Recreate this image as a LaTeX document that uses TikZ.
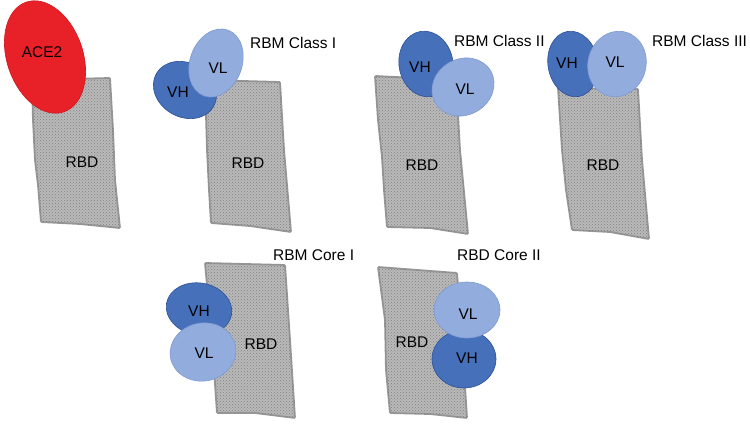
\documentclass[tikz,border=0pt]{standalone}
\usepackage{fontspec}
\setmainfont{Liberation Sans}
\usepackage{tikz}
\usetikzlibrary{positioning, calc, shapes, patterns}

\definecolor{acered}{RGB}{232,32,40}
\definecolor{aceedge}{RGB}{205,25,32}
\definecolor{vhblue}{RGB}{70,112,186}
\definecolor{vhedge}{RGB}{44,80,150}
\definecolor{vlblue}{RGB}{146,172,222}
\definecolor{vledge}{RGB}{126,154,210}
\definecolor{rbdgray}{RGB}{186,186,186}
\definecolor{rbdedge}{RGB}{150,150,150}
\definecolor{speck}{RGB}{125,125,125}

\begin{document}
\begin{tikzpicture}[x=1pt, y=-1pt,
		rbd/.style = {fill = rbdgray, draw = rbdedge, line width = 1.8pt, rounded corners = 1pt,
				postaction = {pattern = crosshatch dots, pattern color = speck}},
		ace/.style = {fill = acered, draw = aceedge, line width = 0.6pt},
		vh/.style = {fill = vhblue, draw = vhedge, line width = 0.6pt},
		vl/.style = {fill = vlblue, draw = vledge, line width = 0.6pt},
		txt/.style = {font = \fontsize{15.5}{18}\selectfont, inner sep = 0pt},
		title/.style = {txt, anchor = west}]
	\useasboundingbox (0,0) rectangle (750,427);

	% receptor binding domains
	\draw[rbd] (32,80) -- (110,78) -- (113,130) -- (115,180) -- (120,228) -- (80,224) -- (41,222) -- (38,185) -- (35,160) -- (33,120) -- cycle;
	\draw[rbd] (205,80) -- (280,82) -- (284,150) -- (291,232) -- (250,226) -- (211,223) -- (209,190) -- (207,150) -- cycle;
	\draw[rbd] (375,76) -- (456,80) -- (460,150) -- (468,234) -- (430,228) -- (387,227) -- (384,190) -- (382,157) -- (378,120) -- cycle;
	\draw[rbd] (558,88) -- (638,89) -- (642,160) -- (649,239) -- (610,232) -- (572,230) -- (566,190) -- (562,150) -- cycle;
	\draw[rbd] (205,263) -- (285,265) -- (290,340) -- (295,418) -- (255,413) -- (217,413) -- (212,340) -- cycle;
	\draw[rbd] (378,267) -- (457,273) -- (462,340) -- (467,418) -- (430,414) -- (390,413) -- (386,370) -- (385,320) -- cycle;

	% ACE2
	\draw[ace, rotate around = {19:(45,57)}] (45,57) ellipse (38pt and 58pt);

	% RBM Class I
	\draw[vh, rotate around = {-30:(185,90)}] (185,90) ellipse (33pt and 27pt);
	\draw[vl, rotate around = {-20:(216,63)}] (216,63) ellipse (26pt and 35pt);

	% RBM Class II
	\draw[vh, rotate around = {10:(426,64)}] (426,64) ellipse (27pt and 33pt);
	\draw[vl, rotate around = {30:(463,87)}] (463,87) ellipse (32pt and 28pt);

	% RBM Class III
	\draw[vh, rotate around = {10:(573,64)}] (573,64) ellipse (25pt and 33pt);
	\draw[vl, rotate around = {-15:(617,64)}] (617,64) ellipse (29pt and 33pt);

	% RBM Core I
	\draw[vh, rotate around = {-10:(199,309)}] (199,309) ellipse (33pt and 26pt);
	\draw[vl, rotate around = {10:(203,352)}] (203,352) ellipse (33pt and 29pt);

	% RBD Core II
	\draw[vh] (464,359) ellipse (32pt and 29pt);
	\draw[vl] (467,310) ellipse (33pt and 28pt);

	% labels
	\node[txt] (ace2) at (42,52) {ACE2};
	\node[txt] (rbdA) at (82,162) {RBD};
	\node[txt] (rbdB) at (248,163) {RBD};
	\node[txt] (rbdC) at (422,165) {RBD};
	\node[txt] (rbdD) at (603,165) {RBD};
	\node[txt] (rbdE) at (261,344) {RBD};
	\node[txt] (rbdF) at (412,342) {RBD};

	\node[txt] (vhA) at (178,92) {VH};
	\node[txt] (vlA) at (218,68) {VL};
	\node[txt] (vhB) at (420,67) {VH};
	\node[txt] (vlB) at (465,89) {VL};
	\node[txt] (vhC) at (567,63) {VH};
	\node[txt] (vlC) at (615,62) {VL};
	\node[txt] (vhE) at (199,311) {VH};
	\node[txt] (vlE) at (204,353) {VL};
	\node[txt] (vlF) at (468,314) {VL};
	\node[txt] (vhF) at (467,358) {VH};

	\node[title] (classI) at (250,43) {RBM Class I};
	\node[title] (classII) at (454,41) {RBM Class II};
	\node[title] (classIII) at (652,41) {RBM Class III};
	\node[title] (coreI) at (273,255) {RBM Core I};
	\node[title] (coreII) at (457,255) {RBD Core II};
\end{tikzpicture}
\end{document}
